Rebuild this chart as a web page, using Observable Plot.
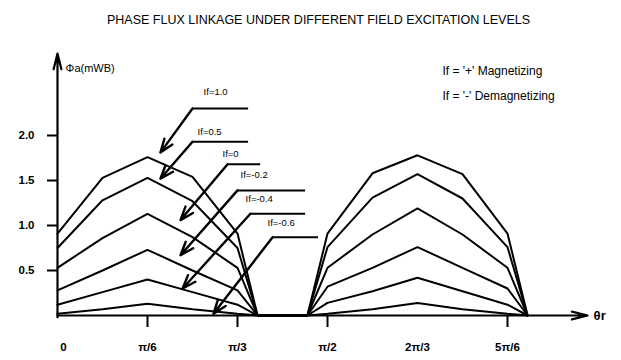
<!DOCTYPE html>
<html><head><meta charset="utf-8">
<script src="https://cdn.jsdelivr.net/npm/d3@7"></script>
<script src="https://cdn.jsdelivr.net/npm/@observablehq/plot@0.6"></script>
<style>
html,body{margin:0;padding:0;background:#fff;}
svg{display:block;}
</style>
</head><body>
<div id="chart"></div>
<script>
// rotor angle (degrees) at each break point of the curves
const angles = [0, 15, 30, 45, 60, 66.7, 83.3, 90, 105, 120, 135, 150, 156.7];
// phase flux linkage (mWb) for each field excitation level
const levels = ["If=1.0", "If=0.5", "If=0", "If=-0.2", "If=-0.4", "If=-0.6"];
const fluxIf10  = [0.91, 1.53, 1.76, 1.54, 0.91, 0, 0, 0.91, 1.58, 1.78, 1.57, 0.91, 0];
const fluxIf05  = [0.75, 1.28, 1.53, 1.27, 0.75, 0, 0, 0.76, 1.31, 1.57, 1.30, 0.76, 0];
const fluxIf0   = [0.53, 0.86, 1.13, 0.87, 0.53, 0, 0, 0.53, 0.90, 1.19, 0.90, 0.53, 0];
const fluxIfm02 = [0.28, 0.50, 0.73, 0.50, 0.28, 0, 0, 0.32, 0.53, 0.76, 0.53, 0.30, 0];
const fluxIfm04 = [0.12, 0.26, 0.40, 0.26, 0.12, 0, 0, 0.14, 0.27, 0.42, 0.27, 0.12, 0];
const fluxIfm06 = [0.02, 0.07, 0.13, 0.07, 0.02, 0, 0, 0.02, 0.07, 0.14, 0.07, 0.02, 0];
const seriesValues = [fluxIf10, fluxIf05, fluxIf0, fluxIfm02, fluxIfm04, fluxIfm06];

// axis ticks
const xTickAngles = [0, 30, 60, 90, 120, 150];
const xTickLabels = ["0", "π/6", "π/3", "π/2", "2π/3", "5π/6"];
const xTickMarks = [30, 60, 90, 150];
const yTicks = [0.5, 1.0, 1.5, 2.0];

const titleText = "PHASE FLUX LINKAGE UNDER DIFFERENT FIELD EXCITATION LEVELS";
const yLabel = "Φa(mWB)";
const xLabel = "θr";
const legendLines = ["If = '+' Magnetizing", "If = '-' Demagnetizing"];

// build long table
const rows = [];
levels.forEach((lv, i) => angles.forEach((a, j) => rows.push({level: lv, angle: a, flux: seriesValues[i][j]})));

// callout annotations (data coordinates)
const callouts = [
  {text: levels[0], tx: 48.7, ty: 2.48, hy: 2.30, hx1: 45,   hx2: 63.7, ax: 34.3, ay: 1.81},
  {text: levels[1], tx: 46.7, ty: 2.04, hy: 1.93, hx1: 45,   hx2: 63.7, ax: 34.3, ay: 1.52},
  {text: levels[2], tx: 55,   ty: 1.79, hy: 1.68, hx1: 56.7, hx2: 67.7, ax: 41,   ay: 1.06},
  {text: levels[3], tx: 61,   ty: 1.56, hy: 1.39, hx1: 60,   hx2: 82.7, ax: 41,   ay: 0.67},
  {text: levels[4], tx: 62.7, ty: 1.30, hy: 1.13, hx1: 64.3, hx2: 82.7, ax: 41.7, ay: 0.30},
  {text: levels[5], tx: 70,   ty: 1.03, hy: 0.87, hx1: 71.7, hx2: 87,   ax: 52,   ay: 0.02}
];

const font = "'Liberation Sans', Arial, Helvetica, sans-serif";
const xLab = xTickAngles.map((a, i) => ({a, t: xTickLabels[i]}));

const chart = Plot.plot({
  width: 621, height: 360,
  marginLeft: 57, marginRight: 24, marginTop: 49.5, marginBottom: 45,
  x: {domain: [0, 180], axis: null},
  y: {domain: [0, 2.95], axis: null},
  style: {fontFamily: font, background: "#fff", color: "#000"},
  marks: [
    // title
    Plot.text([titleText], {frameAnchor: "top", dy: -35, dx: -9, fontSize: 12.5, fill: "#000"}),
    // curves
    Plot.line(rows, {x: "angle", y: "flux", z: "level", stroke: "#000", strokeWidth: 2, strokeLinejoin: "miter"}),
    // axes with arrows
    Plot.arrow([{x1: 0, y1: 0, x2: 176.7, y2: 0}], {x1: "x1", y1: "y1", x2: "x2", y2: "y2", bend: 0, stroke: "#000", strokeWidth: 2.2, headLength: 11, headAngle: 28}),
    Plot.arrow([{x1: 0, y1: -0.02, x2: 0, y2: 2.91}], {x1: "x1", y1: "y1", x2: "x2", y2: "y2", bend: 0, stroke: "#000", strokeWidth: 2.2, headLength: 11, headAngle: 28}),
    // ticks
    Plot.axisY(yTicks, {anchor: "left", tickSize: 10, tickPadding: 13, tickFormat: d3.format(".1f"), fontSize: 11.5, fontWeight: "bold", strokeWidth: 2}),
    Plot.axisX(xTickMarks, {anchor: "bottom", tickSize: 12, tickFormat: () => "", strokeWidth: 2}),
    Plot.text(xLab.slice(0, 1), {x: "a", text: "t", frameAnchor: "bottom", dy: 35, dx: 6, fontSize: 11.5, fontWeight: "bold", fill: "#000"}),
    Plot.text(xLab.slice(1), {x: "a", text: "t", frameAnchor: "bottom", dy: 35, fontSize: 11.5, fontWeight: "bold", fill: "#000"}),
    // axis labels
    Plot.text([yLabel], {x: 2.7, y: 2.74, textAnchor: "start", fontSize: 11, fill: "#000"}),
    Plot.text([xLabel], {x: 178.7, y: 0, textAnchor: "start", fontSize: 13, fontWeight: "bold", fill: "#000"}),
    // legend text
    Plot.text(legendLines.map((t, i) => ({t, i})), {x: 128.3, y: d => 2.72 - d.i * 0.28, text: "t", textAnchor: "start", fontSize: 12, fill: "#000"}),
    // callouts
    Plot.text(callouts, {x: "tx", y: "ty", text: "text", textAnchor: "start", fontSize: 9.5, fill: "#000"}),
    Plot.ruleY(callouts, {y: "hy", x1: "hx1", x2: "hx2", stroke: "#000", strokeWidth: 2}),
    Plot.arrow(callouts, {x1: "hx1", y1: "hy", x2: "ax", y2: "ay", bend: 0, stroke: "#000", strokeWidth: 2.4, headLength: 9, headAngle: 40})
  ]
});
document.getElementById("chart").append(chart);
</script>
</body></html>
